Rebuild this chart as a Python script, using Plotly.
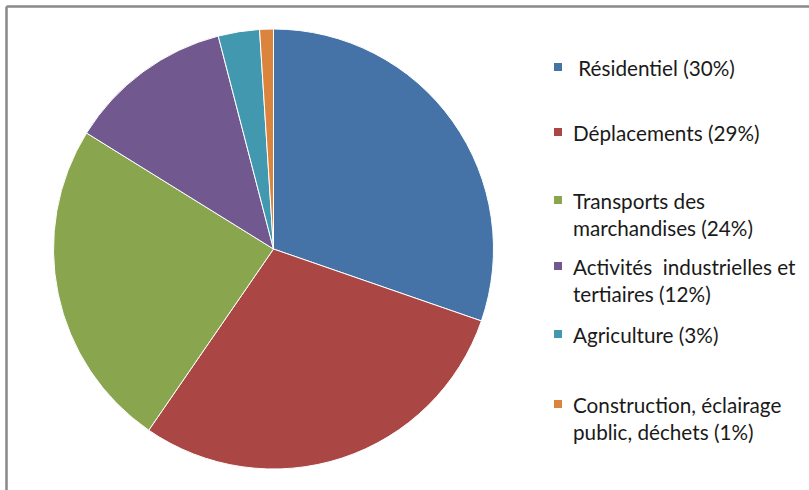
import plotly.graph_objects as go

W, H = 809, 490

categories = ["Résidentiel", "Déplacements", "Transports des marchandises",
              "Activités industrielles et tertiaires", "Agriculture",
              "Construction, éclairage public, déchets"]
values = [30, 29, 24, 12, 3, 1]
legend_lines = [
    [" Résidentiel (30%)"],
    ["Déplacements (29%)"],
    ["Transports des", "marchandises (24%)"],
    ["Activités  industrielles et", "tertiaires (12%)"],
    ["Agriculture (3%)"],
    ["Construction, éclairage", "public, déchets (1%)"],
]
colors = ["#4572A7", "#AA4643", "#89A54E", "#71588F", "#4198AF", "#DB843D"]

cx, cy, r = 273.5, 249, 220
fig = go.Figure(go.Pie(
    labels=categories, values=values, sort=False, direction="clockwise",
    rotation=0, textinfo="none", hoverinfo="label+percent",
    marker=dict(colors=colors, line=dict(color="white", width=1)),
    domain=dict(x=[(cx - r) / W, (cx + r) / W], y=[(H - cy - r) / H, (H - cy + r) / H]),
    showlegend=False,
))

# legend drawn manually
square_y = [67, 132, 200, 266, 334, 404]
line_gap = 26.5
annotations = []
shapes = []
for i, lines in enumerate(legend_lines):
    sy = square_y[i]
    shapes.append(dict(type="rect", xref="paper", yref="paper",
                       x0=554 / W, x1=562 / W, y0=1 - (sy + 4) / H, y1=1 - (sy - 4) / H,
                       fillcolor=colors[i], line=dict(width=0)))
    for j, t in enumerate(lines):
        ty = sy + 1 + j * line_gap
        annotations.append(dict(text=t, xref="paper", yref="paper", x=571 / W, y=1 - ty / H,
                                xanchor="left", yanchor="middle", showarrow=False,
                                font=dict(family="Lato", size=20.7, color="#1a1a1a")))

# chart border (top and left edges visible)
bx, by = 6.5 / W, 1 - 6.5 / H
shapes.append(dict(type="line", xref="paper", yref="paper", x0=bx, x1=1, y0=by, y1=by,
                   line=dict(color="#898989", width=2.5)))
shapes.append(dict(type="line", xref="paper", yref="paper", x0=bx, x1=bx, y0=0, y1=by,
                   line=dict(color="#898989", width=2.5)))

fig.update_layout(width=W, height=H, margin=dict(l=0, r=0, t=0, b=0),
                  paper_bgcolor="white", plot_bgcolor="white",
                  annotations=annotations, shapes=shapes)
fig.write_html("out.html", config={"displayModeBar": False},
               post_script="document.body.style.margin='0';document.body.style.overflow='hidden';")
